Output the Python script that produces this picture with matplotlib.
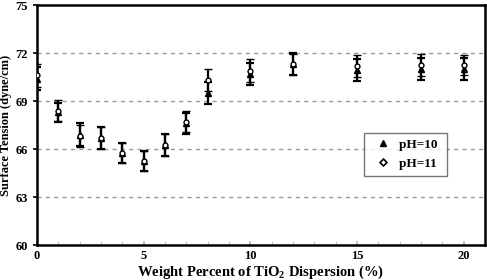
import matplotlib
matplotlib.use("Agg")
import matplotlib.pyplot as plt
from matplotlib.ticker import MultipleLocator
from matplotlib.lines import Line2D

x = [0, 1, 2, 3, 4, 5, 6, 7, 8, 10, 12, 15, 18, 20]
ph10 = [70.4, 68.3, 66.9, 66.7, 65.75, 65.25, 66.25, 67.6, 69.5, 70.7, 71.3, 70.95, 71.0, 71.0]
ph10_err = [0.7, 0.6, 0.7, 0.7, 0.65, 0.65, 0.7, 0.65, 0.7, 0.7, 0.7, 0.7, 0.7, 0.7]
ph11 = [70.6, 68.4, 66.8, 66.7, 65.75, 65.25, 66.25, 67.7, 70.3, 70.9, 71.3, 71.2, 71.25, 71.25]
ph11_err = [0.7, 0.65, 0.7, 0.7, 0.65, 0.65, 0.7, 0.65, 0.7, 0.7, 0.65, 0.7, 0.7, 0.65]

xticks = [0, 5, 10, 15, 20]
yticks = [60, 63, 66, 69, 72, 75]

plt.rcParams['font.family'] = ['Liberation Serif', 'DejaVu Serif']
plt.rcParams['font.weight'] = 'bold'
plt.rcParams['mathtext.fontset'] = 'custom'
plt.rcParams['mathtext.bf'] = 'Liberation Serif:bold'
plt.rcParams['mathtext.rm'] = 'Liberation Serif:bold'

fig = plt.figure(figsize=(4.87, 2.8), dpi=100)
ax = fig.add_axes([0.076, 0.125, 0.92, 0.857])

ax.errorbar(x, ph10, yerr=ph10_err, fmt='^', color='black', ms=4, mfc='black',
            mec='black', ecolor='black', elinewidth=1.6, capsize=3, capthick=1.6,
            zorder=3)
ax.errorbar(x, ph11, yerr=ph11_err, fmt='o', color='black', ms=3.5, mfc='white',
            mec='black', mew=1.0, ecolor='black', elinewidth=1.6, capsize=3,
            capthick=1.6, zorder=4)

ax.set_xlim(0, 21)
ax.set_ylim(60, 75)
ax.set_xticks(xticks)
ax.set_yticks(yticks)
ax.xaxis.set_minor_locator(MultipleLocator(1))
ax.tick_params(axis='x', which='minor', direction='in', length=3, color='#bbbbbb')
ax.tick_params(axis='both', which='major', labelsize=9, length=3, width=1.2)
ax.tick_params(axis='x', which='major', direction='in', color='#bbbbbb')
for lab in ax.get_xticklabels() + ax.get_yticklabels():
    lab.set_fontweight('bold')

for g in [63, 66, 69, 72]:
    ax.axhline(g, color='#999999', lw=1.0, ls=(0, (3, 3)), zorder=1)

for s in ax.spines.values():
    s.set_linewidth(1.8)
    s.set_color('black')

ax.set_xlabel('Weight Percent of TiO$_\\mathrm{2}$ Dispersion (%)', fontsize=10.5,
              fontweight='bold', labelpad=1)
ax.set_ylabel('Surface Tension (dyne/cm)', fontsize=9, fontweight='bold')
ax.yaxis.set_label_coords(-0.055, 0.5)

handles = [Line2D([], [], ls='none', marker='^', color='black', ms=5),
           Line2D([], [], ls='none', marker='D', mfc='white', mec='black', mew=1.2, ms=3.5)]
leg = ax.legend(handles, ['pH=10 ', 'pH=11 '], loc='upper left',
                bbox_to_anchor=(0.73, 0.467), frameon=True,
                fancybox=False, edgecolor='#555555', fontsize=9.5,
                handletextpad=0.2, handlelength=2.0, borderpad=0.45,
                labelspacing=0.5, borderaxespad=0)
leg.get_frame().set_linewidth(1.0)

fig.savefig('out.png', dpi=100)
